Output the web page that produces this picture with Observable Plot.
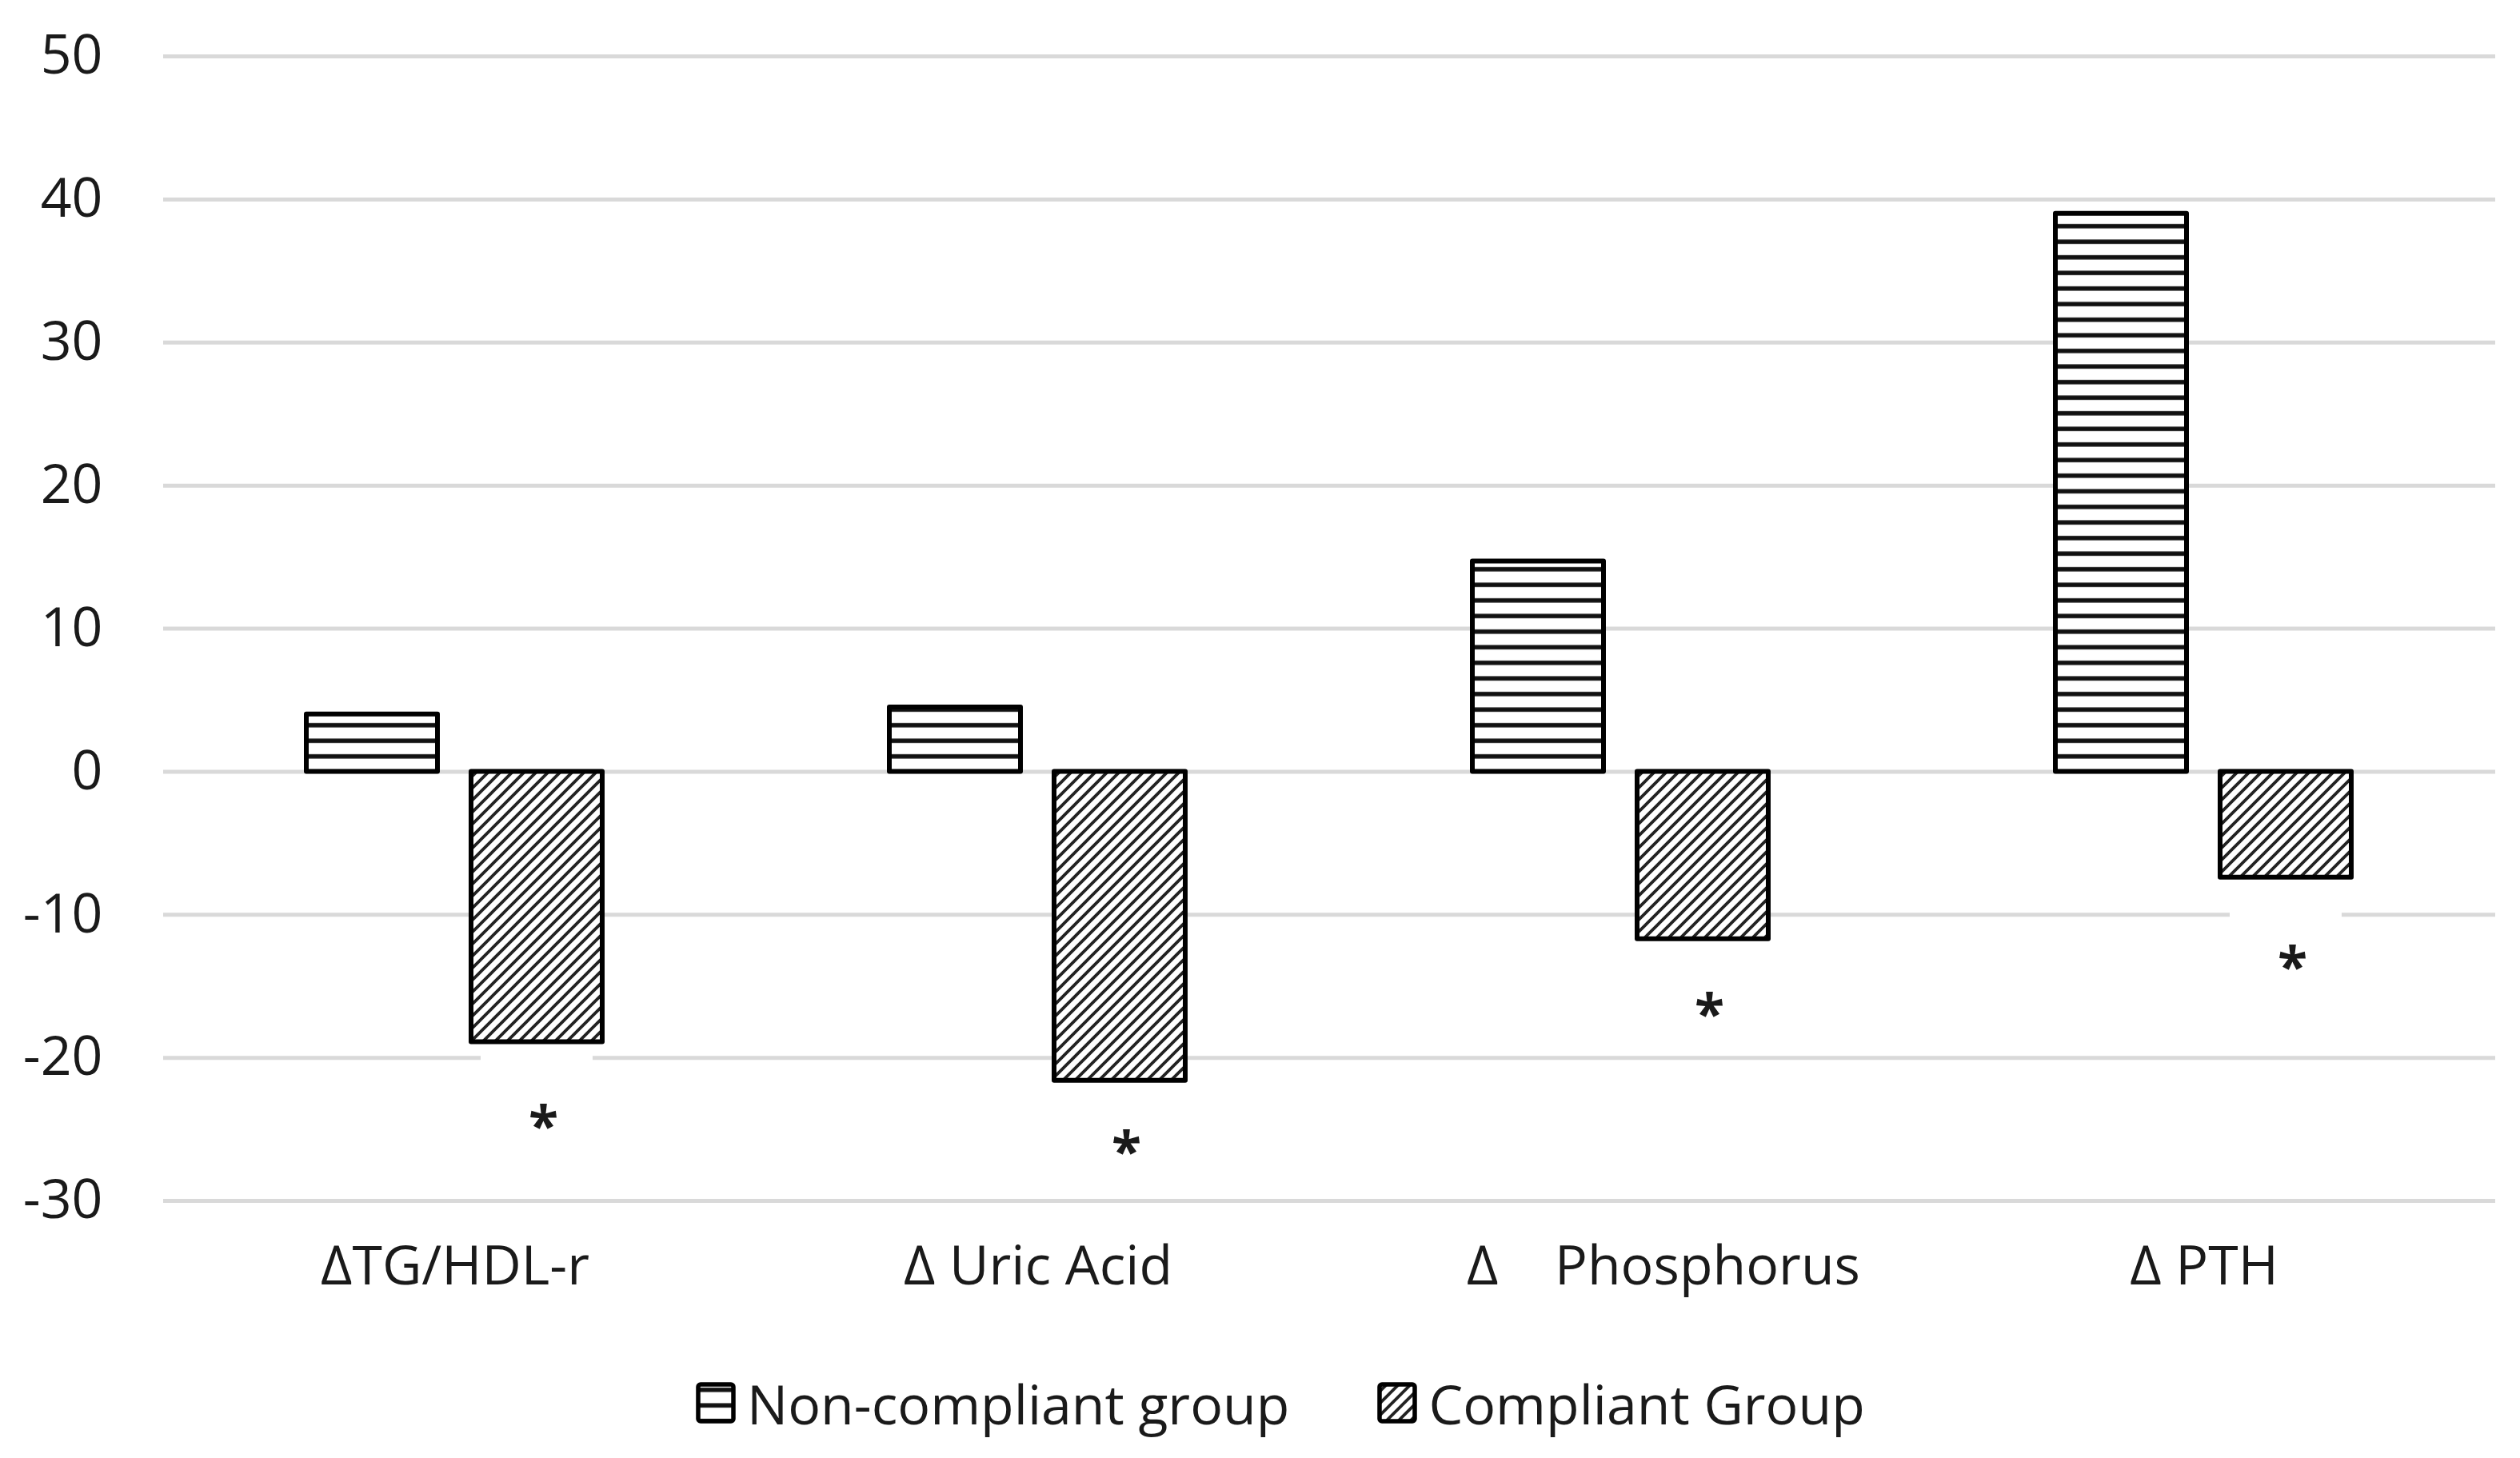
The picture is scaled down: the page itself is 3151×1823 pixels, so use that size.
<!DOCTYPE html>
<html>
<head>
<meta charset="utf-8">
<script src="https://cdn.jsdelivr.net/npm/d3@7"></script>
<script src="https://cdn.jsdelivr.net/npm/@observablehq/plot@0.6"></script>
<style>
  html, body { margin: 0; padding: 0; background: #ffffff; }
  #chart svg { display: block; }
  #legend {
    display: flex; align-items: center; height: 108px; padding-left: 870px;
    font-family: "Open Sans", sans-serif; font-size: 68px; color: #1a1a1a;
  }
  #legend .item { display: flex; align-items: center; }
  #legend .item + .item { margin-left: 110px; }
  #legend .item span { margin-left: 14px; white-space: nowrap; }
</style>
</head>
<body>
<div id="chart"></div>
<div id="legend"></div>
<script>
// ---- data ----
const categories = ["ΔTG/HDL-r", "Δ Uric Acid", "Δ    Phosphorus", "Δ PTH"];
const groups = ["Non-compliant group", "Compliant Group"];
const nonCompliant = [4.0, 4.5, 14.7, 39.0];
const compliant = [-18.9, -21.6, -11.7, -7.4];
const asteriskY = [-24.0, -25.8, -16.2, -12.9];
const yTicks = [-30, -20, -10, 0, 10, 20, 30, 40, 50];
const patterns = ["url(#hstripe)", "url(#dstripe)"];

const rows = [];
categories.forEach((c, i) => {
  rows.push({category: c, group: groups[0], value: nonCompliant[i]});
  rows.push({category: c, group: groups[1], value: compliant[i]});
});
const stars = categories.map((c, i) => ({category: c, group: groups[1], y: asteriskY[i], label: "*"}));

const labelFormat = d => d === categories[2]
  ? "\u00a0\u00a0\u00a0\u00a0\u00a0\u00a0" + d.replace(/ /g, "\u00a0")
  : d.replace(/ /g, "\u00a0");

const chart = Plot.plot({
  width: 3151,
  height: 1700,
  marginTop: 70,
  marginBottom: 199,
  marginLeft: 203,
  marginRight: 31,
  style: {fontFamily: "Open Sans, sans-serif", fontSize: "68px", color: "#1a1a1a", background: "#ffffff", overflow: "visible"},
  fx: {domain: categories, padding: 0, label: null},
  x: {domain: groups, paddingInner: 0.203, paddingOuter: 0.8635, axis: null, label: null},
  y: {domain: [-30, 50], label: null},
  color: {domain: groups, range: patterns},
  marks: [
    Plot.gridY(yTicks, {stroke: "#d9d9d9", strokeOpacity: 1, strokeWidth: 5}),
    Plot.barY(stars, {fx: "category", x: "group", y1: d => d.y + 4.5, y2: d => d.y - 3.5,
      fill: "#ffffff", insetLeft: 12, insetRight: 12}),
    Plot.barY(rows, {fx: "category", x: "group", y: "value", fill: "group",
      stroke: "#000000", strokeWidth: 6, strokeLinejoin: "round"}),
    Plot.text(stars, {fx: "category", x: "group", y: "y", text: "label", dx: 8, dy: 16,
      fontSize: 68, fill: "#1a1a1a", fontWeight: "bold"}),
    Plot.axisY(yTicks, {tickSize: 0, tickPadding: 76, tickFormat: d => String(d), label: null, fontSize: 68}),
    Plot.axisFx({anchor: "bottom", tickSize: 0, tickPadding: 56, label: null, fontSize: 68, tickFormat: labelFormat})
  ]
});

// pattern definitions
const svg = d3.select(chart);
const defs = svg.insert("defs", ":first-child");
const h = defs.append("pattern").attr("id", "hstripe").attr("patternUnits", "userSpaceOnUse")
  .attr("width", 20).attr("height", 19.5);
h.append("rect").attr("width", 20).attr("height", 19.5).attr("fill", "#ffffff");
h.append("rect").attr("y", 7).attr("width", 20).attr("height", 5.5).attr("fill", "#111111");
const dp = defs.append("pattern").attr("id", "dstripe").attr("patternUnits", "userSpaceOnUse")
  .attr("width", 15).attr("height", 15);
dp.append("rect").attr("width", 15).attr("height", 15).attr("fill", "#ffffff");
dp.append("path").attr("d", "M-4,4 L4,-4 M0,15 L15,0 M11,19 L19,11")
  .attr("stroke", "#222222").attr("stroke-width", 3.8).attr("fill", "none");

document.getElementById("chart").appendChild(chart);

// legend
const legend = d3.select("#legend");
groups.forEach((g, i) => {
  const item = legend.append("div").attr("class", "item");
  const sw = item.append("svg").attr("width", 50).attr("height", 52);
  sw.append("rect").attr("x", 3).attr("y", 3).attr("width", 44).attr("height", 46).attr("rx", 3)
    .attr("fill", patterns[i]).attr("stroke", "#000000").attr("stroke-width", 5.5);
  item.append("span").text(g);
});
</script>
</body>
</html>
